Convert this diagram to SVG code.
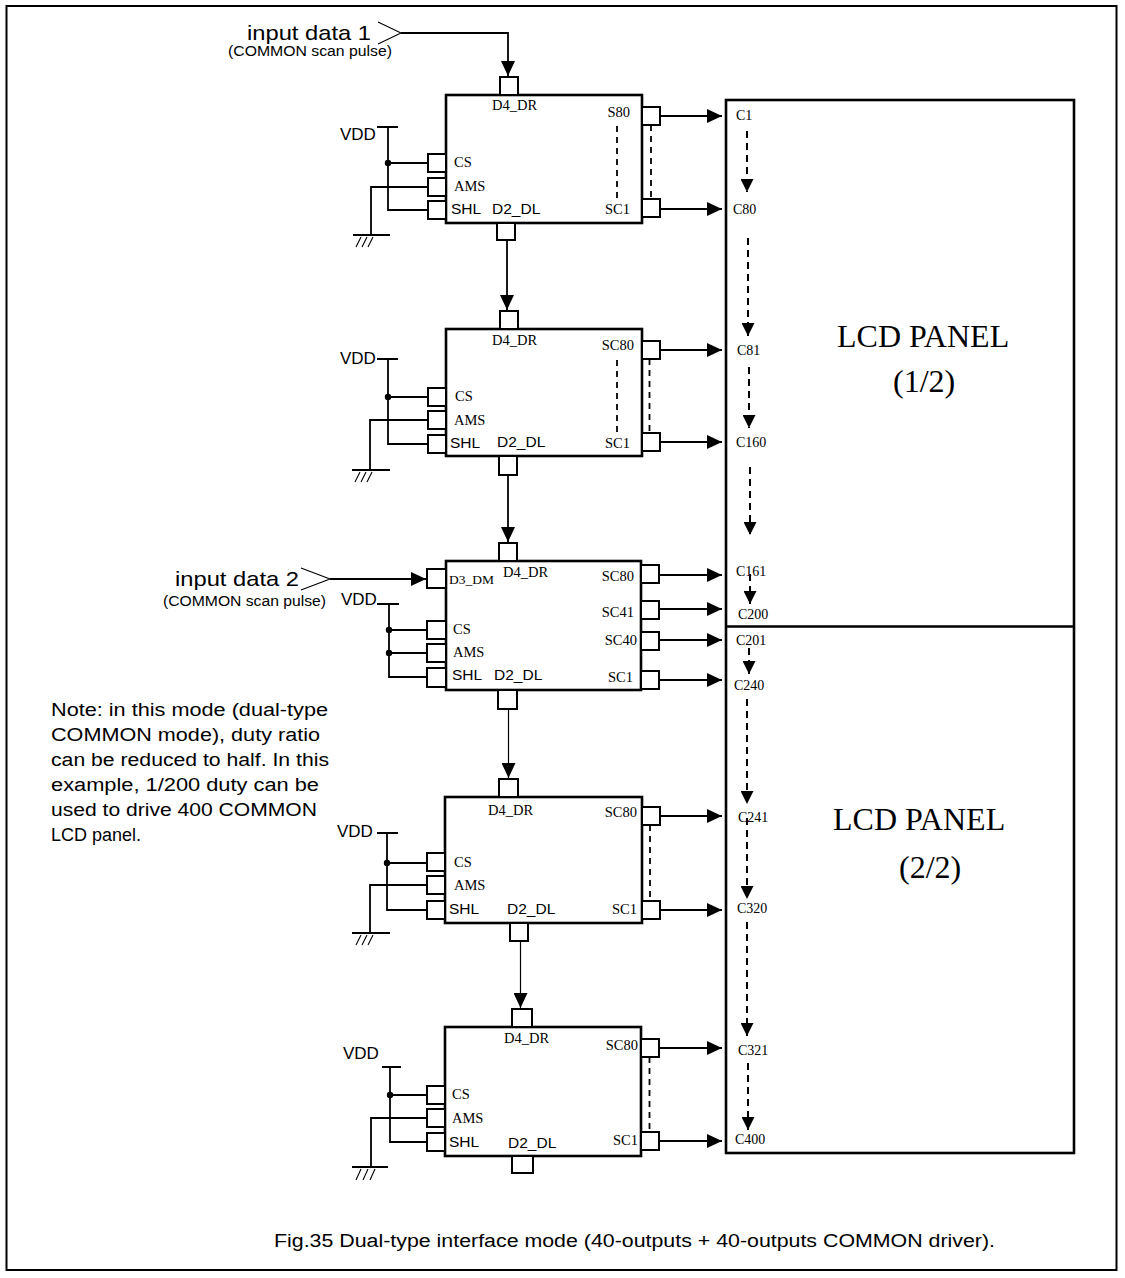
<svg xmlns="http://www.w3.org/2000/svg" width="1125" height="1278" viewBox="0 0 1125 1278">
<defs>
<style>
.b{fill:#fff;stroke:#000;stroke-width:2.6}
.p{fill:#fff;stroke:#000;stroke-width:2}
.w{fill:none;stroke:#000;stroke-width:1.8}
.tw{fill:none;stroke:#000;stroke-width:1.2}
.h{fill:none;stroke:#000;stroke-width:1.1}
.dd{fill:none;stroke:#000;stroke-width:1.8;stroke-dasharray:6,5}
.pd{fill:none;stroke:#000;stroke-width:2;stroke-dasharray:7,5}
.t{font-family:"Liberation Serif","Times New Roman",serif;font-size:14.5px;fill:#000}
.c{font-family:"Liberation Serif","Times New Roman",serif;font-size:14px;fill:#000}
.a{font-family:"Liberation Sans",Arial,sans-serif;font-size:15.5px;fill:#000}
.v{font-family:"Liberation Sans",Arial,sans-serif;font-size:17px;fill:#000}
.big{font-family:"Liberation Serif","Times New Roman",serif;font-size:32px;fill:#000}
.n{font-family:"Liberation Sans",Arial,sans-serif;font-size:18px;fill:#000}
.in{font-family:"Liberation Sans",Arial,sans-serif;font-size:21px;fill:#000}
.pu{font-family:"Liberation Sans",Arial,sans-serif;font-size:14px;fill:#000}
.dm{font-family:"Liberation Serif","Times New Roman",serif;font-size:13.5px;fill:#000}
.e{text-anchor:end}
</style>
<marker id="ar" markerUnits="userSpaceOnUse" markerWidth="15" markerHeight="14" viewBox="0 0 15 14" refX="15" refY="7" orient="auto"><path d="M0,0 L15,7 L0,14 z" fill="#000"/></marker>
<marker id="ad" markerUnits="userSpaceOnUse" markerWidth="13" markerHeight="13" viewBox="0 0 13 13" refX="13" refY="6.5" orient="auto"><path d="M0,0 L13,6.5 L0,13 z" fill="#000"/></marker>
</defs>
<rect x="6.5" y="6" width="1110" height="1264" fill="none" stroke="#000" stroke-width="2"/>

<g id="connectors">
<polyline class="h" points="378,22 401,33 378,44"/>
<path class="w" d="M401,33 H508 V76" marker-end="url(#ar)"/>
<polyline class="h" points="301,568 330,579 301,590"/>
<path class="w" d="M330,579 H426" marker-end="url(#ar)"/>
<path class="w" d="M507,240 V310" marker-end="url(#ar)"/>
<path class="w" d="M508,475 V542" marker-end="url(#ar)"/>
<path class="tw" d="M508.5,709 V778" marker-end="url(#ar)"/>
<path class="tw" d="M520.5,941 V1008" marker-end="url(#ar)"/>
<path class="w" d="M660,116 H722" marker-end="url(#ar)"/>
<path class="w" d="M660,209 H722" marker-end="url(#ar)"/>
<path class="w" d="M660,350 H722" marker-end="url(#ar)"/>
<path class="w" d="M660,442 H722" marker-end="url(#ar)"/>
<path class="w" d="M659,575 H722" marker-end="url(#ar)"/>
<path class="w" d="M659,609 H722" marker-end="url(#ar)"/>
<path class="w" d="M659,640 H722" marker-end="url(#ar)"/>
<path class="w" d="M659,680 H722" marker-end="url(#ar)"/>
<path class="w" d="M660,816 H722" marker-end="url(#ar)"/>
<path class="w" d="M660,910 H722" marker-end="url(#ar)"/>
<path class="w" d="M659,1048 H722" marker-end="url(#ar)"/>
<path class="w" d="M659,1141 H722" marker-end="url(#ar)"/>
<path class="pd" d="M747,131 V192" marker-end="url(#ad)"/>
<path class="pd" d="M748,238 V336" marker-end="url(#ad)"/>
<path class="pd" d="M749,367 V428" marker-end="url(#ad)"/>
<path class="pd" d="M750,467 V535" marker-end="url(#ad)"/>
<path class="pd" d="M750,574 V604" marker-end="url(#ad)"/>
<path class="pd" d="M749,648 V674" marker-end="url(#ad)"/>
<path class="pd" d="M747,699 V804" marker-end="url(#ad)"/>
<path class="pd" d="M747,818 V899" marker-end="url(#ad)"/>
<path class="pd" d="M747,922 V1036" marker-end="url(#ad)"/>
<path class="pd" d="M748,1063 V1130" marker-end="url(#ad)"/>
</g>

<g id="inputs">
<text class="in" x="247" y="40" textLength="124" lengthAdjust="spacingAndGlyphs">input data 1</text>
<text class="pu" x="228" y="56" textLength="164" lengthAdjust="spacingAndGlyphs">(COMMON scan pulse)</text>
<text class="in" x="175" y="586" textLength="124" lengthAdjust="spacingAndGlyphs">input data 2</text>
<text class="pu" x="163" y="606" textLength="163" lengthAdjust="spacingAndGlyphs">(COMMON scan pulse)</text>
</g>

<g id="chip1">
<rect class="b" x="446" y="95" width="196" height="128"/>
<rect class="p" x="500" y="77" width="18" height="18"/>
<rect class="p" x="428" y="154" width="18" height="18"/>
<rect class="p" x="428" y="178" width="18" height="18"/>
<rect class="p" x="428" y="201" width="18" height="18"/>
<rect class="p" x="642" y="107" width="18" height="18"/>
<rect class="p" x="642" y="199" width="18" height="18"/>
<rect class="p" x="497" y="223" width="18" height="17"/>
<text class="t" x="492" y="110">D4_DR</text>
<text class="t e" x="630" y="117">S80</text>
<text class="t e" x="630" y="214">SC1</text>
<text class="t" x="454" y="167">CS</text>
<text class="t" x="454" y="191">AMS</text>
<text class="a" x="451" y="214">SHL</text>
<text class="a" x="492" y="214">D2_DL</text>
<path class="dd" d="M617,126 V198 M651,125 V199"/>
<text class="v" x="340" y="140">VDD</text>
<path class="w" d="M377,127 H398 M388,127 V210 H428 M388,163 H428 M428,187 H371 V235 M353,235 H390"/>
<circle cx="388" cy="163" r="3.2"/>
<path class="h" d="M361,237 L356,247 M367,237 L362,247 M373,237 L368,247"/>
</g>

<g id="chip2">
<rect class="b" x="446" y="329" width="196" height="127"/>
<rect class="p" x="500" y="311" width="18" height="18"/>
<rect class="p" x="428" y="388" width="18" height="18"/>
<rect class="p" x="428" y="411" width="18" height="18"/>
<rect class="p" x="428" y="435" width="18" height="18"/>
<rect class="p" x="642" y="341" width="18" height="18"/>
<rect class="p" x="642" y="433" width="18" height="18"/>
<rect class="p" x="499" y="456" width="18" height="19"/>
<text class="t" x="492" y="345">D4_DR</text>
<text class="t e" x="634" y="350">SC80</text>
<text class="t e" x="630" y="448">SC1</text>
<text class="t" x="455" y="401">CS</text>
<text class="t" x="454" y="425">AMS</text>
<text class="a" x="450" y="448">SHL</text>
<text class="a" x="497" y="447">D2_DL</text>
<path class="dd" d="M617,360 V433 M649.5,359 V433"/>
<text class="v" x="340" y="364">VDD</text>
<path class="w" d="M377,359 H398 M388,359 V444 H428 M388,397 H428 M428,420 H370 V470 M352,470 H390"/>
<circle cx="388" cy="397" r="3.2"/>
<path class="h" d="M360,472 L355,482 M366,472 L361,482 M372,472 L367,482"/>
</g>

<g id="chip3">
<rect class="b" x="446" y="561" width="195" height="129"/>
<rect class="p" x="499" y="543" width="18" height="18"/>
<rect class="p" x="427" y="569" width="19" height="19"/>
<rect class="p" x="427" y="621" width="19" height="18"/>
<rect class="p" x="427" y="644" width="19" height="18"/>
<rect class="p" x="427" y="668" width="19" height="19"/>
<rect class="p" x="641" y="565" width="18" height="18"/>
<rect class="p" x="641" y="601" width="18" height="18"/>
<rect class="p" x="641" y="632" width="18" height="18"/>
<rect class="p" x="641" y="671" width="18" height="18"/>
<rect class="p" x="498" y="690" width="19" height="19"/>
<text class="dm" x="449" y="584">D3_DM</text>
<text class="t" x="503" y="577">D4_DR</text>
<text class="t e" x="634" y="581">SC80</text>
<text class="t e" x="634" y="617">SC41</text>
<text class="t e" x="637" y="645">SC40</text>
<text class="t e" x="633" y="682">SC1</text>
<text class="t" x="453" y="634">CS</text>
<text class="t" x="453" y="657">AMS</text>
<text class="a" x="452" y="680">SHL</text>
<text class="a" x="494" y="680">D2_DL</text>
<text class="v" x="341" y="605">VDD</text>
<path class="w" d="M377,604 H399 M389,604 V677 H427 M389,630 H427 M389,653 H427"/>
<circle cx="389" cy="630" r="3.2"/>
<circle cx="389" cy="653" r="3.2"/>
</g>

<g id="chip4">
<rect class="b" x="445" y="797" width="197" height="126"/>
<rect class="p" x="499" y="779" width="19" height="18"/>
<rect class="p" x="427" y="853" width="18" height="18"/>
<rect class="p" x="427" y="876" width="18" height="18"/>
<rect class="p" x="427" y="901" width="18" height="18"/>
<rect class="p" x="642" y="807" width="18" height="18"/>
<rect class="p" x="642" y="901" width="18" height="18"/>
<rect class="p" x="510" y="923" width="18" height="18"/>
<text class="t" x="488" y="815">D4_DR</text>
<text class="t e" x="637" y="817">SC80</text>
<text class="t e" x="637" y="914">SC1</text>
<text class="t" x="454" y="867">CS</text>
<text class="t" x="454" y="890">AMS</text>
<text class="a" x="449" y="914">SHL</text>
<text class="a" x="507" y="914">D2_DL</text>
<path class="dd" d="M650,825 V901"/>
<text class="v" x="337" y="837">VDD</text>
<path class="w" d="M377,833 H398 M387,833 V910 H427 M387,863 H427 M427,885 H370 V933 M352,933 H390"/>
<circle cx="387" cy="863" r="3.2"/>
<path class="h" d="M361,935 L356,945 M367,935 L362,945 M373,935 L368,945"/>
</g>

<g id="chip5">
<rect class="b" x="445" y="1027" width="196" height="129"/>
<rect class="p" x="512" y="1009" width="20" height="18"/>
<rect class="p" x="427" y="1086" width="18" height="18"/>
<rect class="p" x="427" y="1109" width="18" height="18"/>
<rect class="p" x="427" y="1133" width="18" height="18"/>
<rect class="p" x="641" y="1039" width="18" height="18"/>
<rect class="p" x="641" y="1132" width="18" height="18"/>
<rect class="p" x="512" y="1156" width="21" height="17"/>
<text class="t" x="504" y="1043">D4_DR</text>
<text class="t e" x="638" y="1050">SC80</text>
<text class="t e" x="638" y="1145">SC1</text>
<text class="t" x="452" y="1099">CS</text>
<text class="t" x="452" y="1123">AMS</text>
<text class="a" x="449" y="1147">SHL</text>
<text class="a" x="508" y="1148">D2_DL</text>
<path class="dd" d="M649.5,1057 V1132"/>
<text class="v" x="343" y="1059">VDD</text>
<path class="w" d="M382,1067 H401 M390,1067 V1142 H427 M390,1095 H427 M427,1118 H371 V1167 M352,1167 H388"/>
<circle cx="390" cy="1095" r="3.2"/>
<path class="h" d="M361,1169 L356,1180 M368,1169 L363,1180 M375,1169 L370,1180"/>
</g>

<g id="panel">
<rect x="726" y="100" width="348" height="1053" fill="none" stroke="#000" stroke-width="2.6"/>
<line x1="726" y1="626.5" x2="1074" y2="626.5" stroke="#000" stroke-width="2.6"/>
<text class="c" x="736" y="120">C1</text>
<text class="c" x="733" y="214">C80</text>
<text class="c" x="737" y="355">C81</text>
<text class="c" x="736" y="447">C160</text>
<text class="c" x="736" y="576">C161</text>
<text class="c" x="738" y="619">C200</text>
<text class="c" x="736" y="645">C201</text>
<text class="c" x="734" y="690">C240</text>
<text class="c" x="738" y="822">C241</text>
<text class="c" x="737" y="913">C320</text>
<text class="c" x="738" y="1055">C321</text>
<text class="c" x="735" y="1144">C400</text>
<text class="big" x="837" y="347">LCD PANEL</text>
<text class="big" x="893" y="392">(1/2)</text>
<text class="big" x="833" y="830">LCD PANEL</text>
<text class="big" x="899" y="878">(2/2)</text>
</g>

<g id="note">
<text class="n" x="51" y="716" textLength="277" lengthAdjust="spacingAndGlyphs">Note: in this mode (dual-type</text>
<text class="n" x="51" y="741" textLength="269" lengthAdjust="spacingAndGlyphs">COMMON mode), duty ratio</text>
<text class="n" x="51" y="766" textLength="278" lengthAdjust="spacingAndGlyphs">can be reduced to half. In this</text>
<text class="n" x="51" y="791" textLength="268" lengthAdjust="spacingAndGlyphs">example, 1/200 duty can be</text>
<text class="n" x="51" y="816" textLength="266" lengthAdjust="spacingAndGlyphs">used to drive 400 COMMON</text>
<text class="n" x="51" y="841">LCD panel.</text>
</g>

<g id="caption">
<text class="n" x="274" y="1247" textLength="721" lengthAdjust="spacingAndGlyphs">Fig.35  Dual-type interface mode (40-outputs + 40-outputs COMMON driver).</text>
</g>
</svg>
